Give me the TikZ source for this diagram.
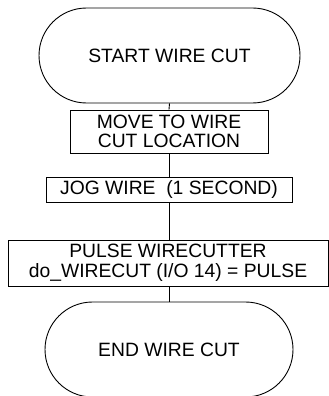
\documentclass[tikz,border=0pt]{standalone}
\usepackage{fontspec}
\setmainfont{Liberation Sans}
\usetikzlibrary{shapes.misc}

\begin{document}
\begin{tikzpicture}[
        x=1pt, y=-1pt,
        term/.style={rounded rectangle, draw=black, line width=0.9pt, minimum height=95pt, inner sep=0pt, align=center, font=\fontsize{19.3}{20}\selectfont},
        box/.style={rectangle, draw=black, line width=0.9pt, inner sep=0pt, align=center, font=\fontsize{19.3}{19.5}\selectfont},
        link/.style={line width=0.9pt, draw=black}
    ]
    \useasboundingbox (0,0) rectangle (329,396);

    % Inicio
    \node[term, minimum width=261pt] (start) at (169.5, 55.5) {START WIRE CUT};

    % Pasos
    \node[box, minimum width=198pt, minimum height=43pt] (move) at (169, 131.5) {MOVE TO WIRE\\CUT LOCATION};
    \node[box, minimum width=246pt, minimum height=25pt] (jog) at (169, 189.5) {JOG WIRE\ \ (1 SECOND)};
    \node[box, minimum width=320pt, minimum height=46pt] (pulse) at (168, 263) {PULSE WIRECUTTER\\do\_WIRECUT (I/O 14) = PULSE};

    % Fin
    \node[term, minimum width=248pt] (end) at (169, 349.5) {END WIRE CUT};

    % Conexiones
    \draw[link] (start.south) -- (move.north);
    \draw[link] (move.south) -- (jog.north -| move.south);
    \draw[link] (jog.south -| move.south) -- (pulse.north -| move.south);
    \draw[link] (pulse.south -| move.south) -- (end.north -| move.south);
\end{tikzpicture}
\end{document}
